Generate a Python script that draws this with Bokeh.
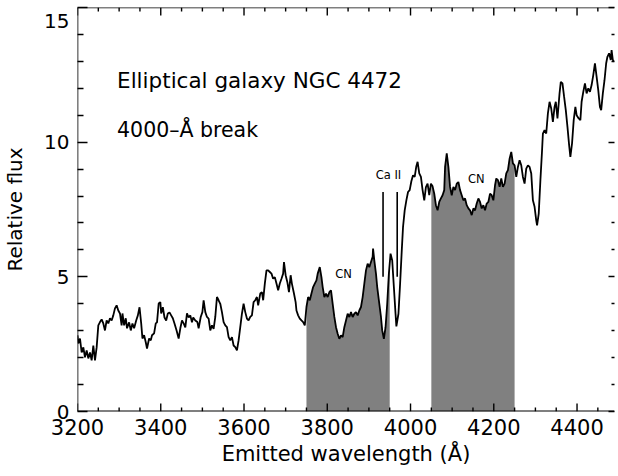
import numpy as np
from bokeh.plotting import figure
from bokeh.models import (Range1d, LinearAxis, FixedTicker, CustomLabelingPolicy, Span)
from bokeh.core.properties import value
from bokeh.embed import file_html
from bokeh.resources import INLINE

# Rest-frame spectrum of NGC 4472 (wavelength in Angstrom, relative flux)
wavelength = [
    3200, 3202, 3206, 3210, 3214, 3218, 3222, 3226, 3230, 3234,
    3238, 3242, 3246, 3250, 3254, 3258, 3262, 3266, 3270, 3274,
    3278, 3282, 3286, 3290, 3294, 3298, 3302, 3306, 3308, 3312,
    3316, 3319, 3324, 3328, 3332, 3336, 3341, 3345, 3349, 3353,
    3356, 3360, 3364, 3367, 3372, 3376, 3379, 3384, 3388, 3391,
    3395, 3399, 3401, 3405, 3409, 3413, 3417, 3421, 3425, 3429,
    3433, 3438, 3443, 3447, 3451, 3455, 3459, 3463, 3467, 3471,
    3475, 3478, 3483, 3488, 3491, 3496, 3500, 3503, 3507, 3511,
    3515, 3519, 3523, 3527, 3531, 3535, 3539, 3543, 3547, 3551,
    3555, 3559, 3563, 3567, 3571, 3575, 3579, 3583, 3587, 3591,
    3595, 3599, 3603, 3607, 3611, 3615, 3619, 3623, 3627, 3631,
    3634, 3639, 3643, 3646, 3650, 3654, 3658, 3662, 3666, 3670,
    3674, 3678, 3682, 3686, 3690, 3694, 3696, 3700, 3704, 3708,
    3712, 3715, 3720, 3724, 3726, 3730, 3734, 3738, 3742, 3746,
    3750, 3754, 3758, 3762, 3766, 3770, 3774, 3777, 3782, 3786,
    3789, 3793, 3797, 3801, 3805, 3809, 3813, 3817, 3821, 3825,
    3829, 3833, 3837, 3841, 3845, 3849, 3853, 3857, 3861, 3865,
    3869, 3873, 3877, 3881, 3885, 3889, 3893, 3897, 3901, 3905,
    3909, 3910, 3913, 3917, 3920, 3924, 3929, 3932, 3936, 3940,
    3944, 3948, 3952, 3956, 3960, 3964, 3966, 3971, 3975, 3979,
    3982, 3986, 3990, 3994, 3998, 4002, 4006, 4010, 4014, 4017,
    4021, 4025, 4029, 4033, 4037, 4041, 4045, 4049, 4053, 4057,
    4061, 4065, 4069, 4073, 4077, 4081, 4083, 4087, 4091, 4095,
    4099, 4103, 4107, 4111, 4115, 4119, 4123, 4127, 4131, 4135,
    4139, 4143, 4147, 4151, 4155, 4159, 4163, 4167, 4171, 4175,
    4179, 4183, 4187, 4191, 4195, 4199, 4203, 4206, 4210, 4214,
    4218, 4222, 4226, 4230, 4234, 4238, 4242, 4246, 4250, 4254,
    4258, 4262, 4266, 4270, 4274, 4278, 4282, 4286, 4290, 4294,
    4298, 4302, 4304, 4308, 4312, 4316, 4318, 4322, 4326, 4330,
    4334, 4338, 4342, 4346, 4349, 4353, 4358, 4361, 4365, 4369,
    4373, 4377, 4381, 4384, 4388, 4392, 4396, 4399, 4404, 4408,
    4411, 4415, 4419, 4423, 4427, 4431, 4435, 4439, 4443, 4447,
    4451, 4455, 4458, 4462, 4466, 4470, 4473, 4477, 4481, 4483, 4486, 4489,
]
flux = [
    2.83, 2.53, 2.71, 2.19, 2.38, 2.01, 2.27, 1.97, 2.19, 1.90,
    2.45, 1.90, 2.38, 3.20, 3.32, 3.42, 3.27, 3.01, 3.38, 3.27,
    3.46, 3.38, 3.57, 3.83, 3.94, 3.75, 3.64, 3.20, 3.64, 3.20,
    3.46, 3.09, 3.31, 3.01, 3.27, 3.09, 3.38, 3.57, 3.87, 3.27,
    2.71, 2.83, 2.57, 2.34, 2.71, 2.64, 2.83, 2.90, 3.27, 3.31,
    4.01, 4.06, 3.64, 3.87, 3.49, 3.38, 3.64, 3.68, 3.57, 3.46,
    3.27, 3.01, 2.71, 3.09, 3.38, 3.27, 3.12, 3.64, 3.49, 3.57,
    3.31, 3.49, 3.38, 3.32, 3.09, 3.51, 3.69, 4.13, 3.69, 3.51,
    3.45, 3.01, 3.20, 3.07, 3.51, 4.25, 4.13, 4.00, 3.69, 3.32,
    3.20, 3.13, 2.76, 2.64, 2.76, 2.45, 2.39, 2.27, 2.64, 3.13,
    3.63, 4.00, 3.69, 3.45, 3.38, 3.51, 3.57, 4.06, 4.13, 4.25,
    3.94, 4.38, 4.43, 4.13, 4.75, 5.24, 5.24, 5.18, 5.12, 4.93,
    4.99, 4.75, 4.50, 4.75, 4.93, 5.12, 5.55, 5.06, 4.81, 4.43,
    5.06, 4.75, 4.38, 4.06, 3.75, 3.57, 3.45, 3.38, 3.32, 3.20,
    3.88, 4.25, 4.13, 4.38, 4.62, 4.75, 4.87, 5.12, 5.36, 4.99,
    4.62, 4.25, 4.38, 4.25, 4.43, 4.50, 4.00, 3.51, 3.13, 2.89,
    2.70, 2.83, 2.76, 3.13, 3.38, 3.63, 3.51, 3.69, 3.51, 3.63,
    3.69, 3.57, 3.75, 3.88, 4.25, 4.75, 5.24, 5.49, 5.36, 5.55,
    5.74, 6.05, 5.61, 5.12, 4.62, 4.13, 3.51, 3.01, 2.70, 3.13,
    4.00, 5.12, 5.86, 5.61, 4.62, 3.63, 3.16, 3.63, 4.75, 5.99,
    6.85, 7.47, 7.84, 8.15, 8.22, 8.55, 8.77, 8.71, 9.11, 9.27,
    8.84, 8.71, 8.22, 7.84, 8.33, 8.46, 8.03, 8.46, 8.36, 8.09,
    7.66, 7.47, 7.78, 7.91, 8.03, 8.22, 9.08, 9.58, 9.08, 8.34,
    8.03, 8.34, 8.22, 8.46, 8.52, 8.22, 8.03, 7.84, 7.91, 7.66,
    7.54, 7.47, 7.29, 7.54, 7.47, 7.72, 7.91, 7.78, 7.54, 7.66,
    7.47, 7.72, 7.78, 8.09, 8.03, 7.84, 8.40, 8.65, 8.59, 8.34,
    8.65, 8.34, 8.46, 8.84, 8.96, 9.39, 9.64, 9.21, 9.14, 8.71,
    9.08, 9.33, 9.14, 8.71, 8.46, 9.02, 9.14, 9.08, 8.84, 7.84,
    7.60, 7.10, 6.91, 7.35, 8.59, 9.70, 10.32, 10.45, 10.32, 11.07,
    11.50, 11.25, 10.75, 11.31, 11.50, 10.88, 11.81, 12.24, 12.18, 11.68,
    11.19, 10.57, 9.89, 9.45, 9.95, 10.82, 11.31, 11.00, 10.88, 10.82,
    11.50, 11.87, 12.18, 11.81, 12.00, 11.87, 12.12, 12.49, 12.93, 12.43,
    11.93, 11.31, 11.19, 11.81, 12.30, 12.93, 13.17, 13.30, 13.05, 13.42, 13.05, 12.99,
]

# Continuum bands either side of the break (shaded)
band_start = [3750, 4050]
band_end = [3950, 4250]

# Ca II H and K line markers
caii_wavelength = [3934, 3968]
caii_bottom = [5.0, 5.0]
caii_top = [8.15, 8.15]

# Axis ranges and ticks
wave_min, wave_max = 3200, 4490
flux_min, flux_max = 0, 15
wave_major = [3200, 3400, 3600, 3800, 4000, 4200, 4400]
wave_minor = [3250, 3300, 3350, 3450, 3500, 3550, 3650, 3700, 3750, 3850, 3900,
              3950, 4050, 4100, 4150, 4250, 4300, 4350, 4450]
flux_major = [0, 5, 10, 15]
flux_minor = [1, 2, 3, 4, 6, 7, 8, 9, 11, 12, 13, 14]

# Annotations
title_text = "Elliptical galaxy NGC 4472"
subtitle_text = "4000\u2013\u00c5 break"
note_x = 3295
title_y = 12.3
subtitle_y = 10.45
line_label_text = ["CN", "Ca II", "CN"]
line_label_x = [3839, 3947, 4158]
line_label_y = [5.12, 8.77, 8.65]

FONT = "DejaVu Sans"
HEIGHT, TOP, BOTTOM = 476, 7, 65
FRAME_PX = HEIGHT - TOP - BOTTOM
PX = (flux_max - flux_min) / FRAME_PX  # flux units per screen pixel

wl = np.array(wavelength, dtype=float)
fl = np.array(flux, dtype=float)

p = figure(
    width=618, height=HEIGHT,
    x_range=Range1d(wave_min, wave_max), y_range=Range1d(flux_min, flux_max),
    output_backend="svg", toolbar_location=None,
    min_border_left=76, min_border_right=0,
    min_border_top=TOP, min_border_bottom=BOTTOM,
)
p.outline_line_color = None
p.grid.visible = False
p.background_fill_color = "white"
p.border_fill_color = "white"

# Shaded band areas under the spectrum
for lo, hi in zip(band_start, band_end):
    inside = (wl > lo) & (wl < hi)
    bx = np.concatenate([[lo], wl[inside], [hi]])
    by = np.concatenate([[np.interp(lo, wl, fl)], fl[inside], [np.interp(hi, wl, fl)]])
    p.varea(x=bx, y1=np.zeros_like(bx), y2=by, fill_color="#808080", fill_alpha=1.0)

# Spectrum
p.line(wl, fl, line_color="black", line_width=1.8)

# Ca II markers
p.segment(x0=caii_wavelength, y0=caii_bottom, x1=caii_wavelength, y1=caii_top,
          line_color="black", line_width=1.6)

# Text
p.text(x=[note_x], y=[title_y], text=[title_text], text_font=value(FONT),
       text_font_size=value("21.5px"), text_align="left", text_baseline="middle",
       text_color="black")
p.text(x=[note_x], y=[subtitle_y], text=[subtitle_text], text_font=value(FONT),
       text_font_size=value("20.5px"), text_align="left", text_baseline="middle",
       text_color="black")
p.text(x=line_label_x, y=line_label_y, text=line_label_text, text_font=value(FONT),
       text_font_size=value("11.5px"), text_align="center", text_baseline="middle",
       text_color="black")

# Inward wavelength ticks along the bottom and top edges
for ticks, length in ((wave_major, 8 * PX), (wave_minor, 4 * PX)):
    n = len(ticks)
    p.segment(x0=ticks, y0=[flux_min] * n, x1=ticks, y1=[flux_min + length] * n,
              line_color="black", line_width=1.4)
    p.segment(x0=ticks, y0=[flux_max] * n, x1=ticks, y1=[flux_max - length] * n,
              line_color="black", line_width=1.4)

xticker = FixedTicker(ticks=wave_major, minor_ticks=wave_minor)
xticker_top = FixedTicker(ticks=wave_major, minor_ticks=wave_minor)
yticker_left = FixedTicker(ticks=flux_major, minor_ticks=flux_minor)
yticker_right = FixedTicker(ticks=flux_major, minor_ticks=flux_minor)


def style_axis(ax, major_in, minor_in):
    # inward ticks; the frame edges are drawn separately with spans
    ax.major_tick_in = major_in
    ax.major_tick_out = 0
    ax.minor_tick_in = minor_in
    ax.minor_tick_out = 0
    ax.axis_line_color = None
    ax.major_tick_line_color = "black"
    ax.major_tick_line_width = 1.4
    ax.minor_tick_line_color = "black"
    ax.minor_tick_line_width = 1.4
    ax.major_label_text_font = FONT
    ax.major_label_text_color = "black"
    ax.axis_label_text_font = FONT
    ax.axis_label_text_font_style = "normal"
    ax.axis_label_text_color = "black"


def hide_labels(ax):
    ax.major_label_policy = CustomLabelingPolicy(code="return []")
    ax.major_label_text_font_size = "1px"
    ax.major_label_standoff = 0


xaxis = p.xaxis[0]
xaxis.ticker = xticker
style_axis(xaxis, 0, 0)
xaxis.major_tick_line_color = None
xaxis.minor_tick_line_color = None
xaxis.major_label_text_font_size = "21px"
xaxis.major_label_standoff = 7
xaxis.axis_label = "Emitted wavelength (\u00c5)"
xaxis.axis_label_text_font_size = "21px"
xaxis.axis_label_standoff = 4

yaxis = p.yaxis[0]
yaxis.ticker = yticker_left
style_axis(yaxis, 10, 6)
yaxis.major_label_text_font_size = "20px"
yaxis.major_label_standoff = 8
# the top label sits just under the corner
yaxis.major_label_overrides = {15: "\n15"}
yaxis.major_label_text_line_height = 0.35
yaxis.axis_label = "Relative flux"
yaxis.axis_label_text_font_size = "20px"
yaxis.axis_label_standoff = 14

top = LinearAxis(ticker=xticker_top)
style_axis(top, 0, 0)
top.major_tick_line_color = None
top.minor_tick_line_color = None
hide_labels(top)
p.add_layout(top, "above")

right = LinearAxis(ticker=yticker_right)
style_axis(right, 6, 3)
hide_labels(right)
p.add_layout(right, "right")

# Frame edges: left, bottom and top
p.add_layout(Span(location=wave_min, dimension="height", line_color="black", line_width=1.6))
p.add_layout(Span(location=flux_min, dimension="width", line_color="black", line_width=2))
p.add_layout(Span(location=flux_max, dimension="width", line_color="black", line_width=1.6))

open("out.html", "w").write(file_html(p, INLINE))
